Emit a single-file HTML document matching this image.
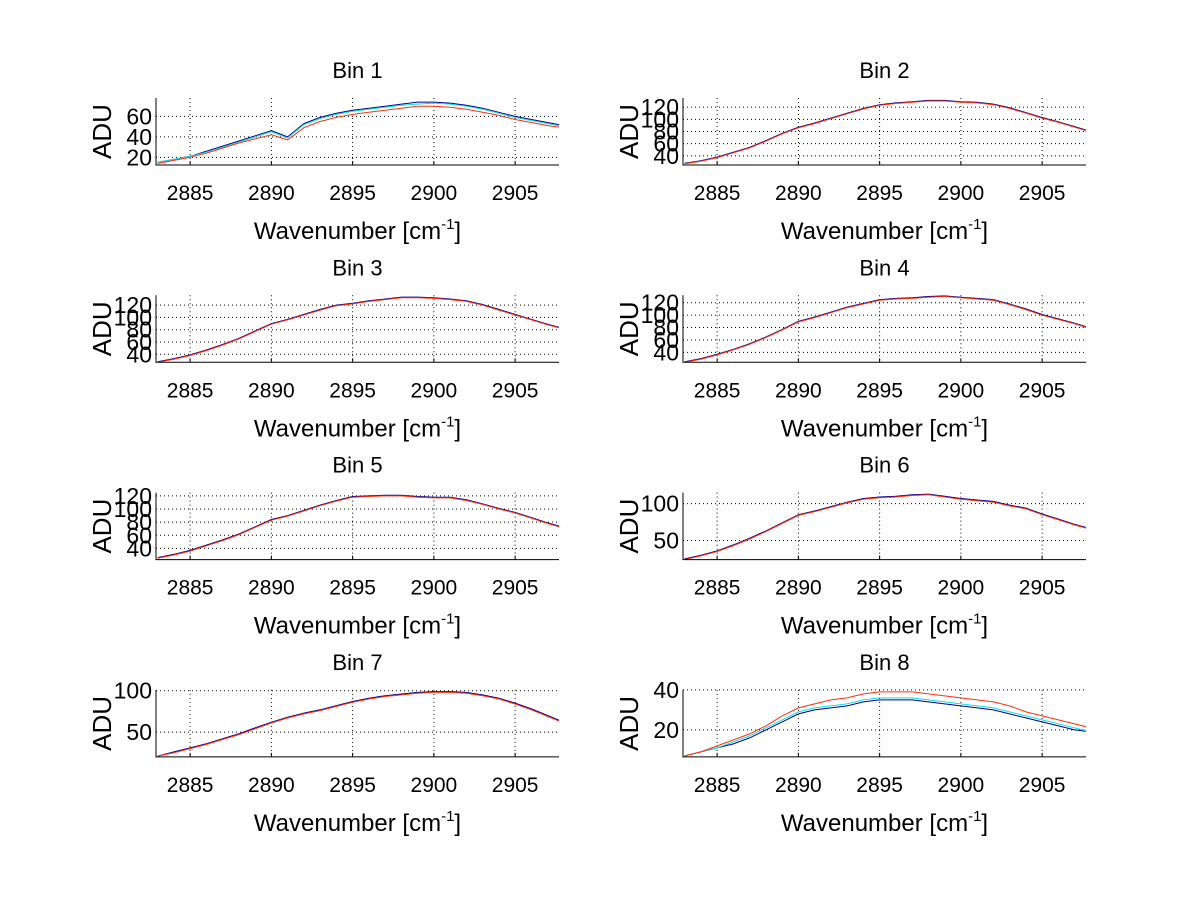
<!DOCTYPE html>
<html><head><meta charset="utf-8"><style>
html,body{margin:0;padding:0;background:#fff;}
svg{display:block;font-family:"Liberation Sans",sans-serif;}
</style></head><body>
<svg id="fig" width="1200" height="901" viewBox="0 0 1200 901" xmlns="http://www.w3.org/2000/svg">
<rect width="1200" height="901" fill="#fff"/>
</svg>
<script>
const xVals = [2883,2884,2885,2886,2887,2888,2889,2890,2891,2892,2893,2894,2895,2896,2897,2898,2899,2900,2901,2902,2903,2904,2905,2906,2907,2908];
const xTicks = [2885,2890,2895,2900,2905];
const xLim = [2882.9, 2907.7];

const bin1Navy = [15,18,21,26,31,36,41,46,40,53,59,63,66,68,70,72,74,74,73,71,68,64,60,57,54,51];
const bin1Cyan = [15,18,21,25,30,35,40,45,39,52,58,62,65,67,69,71,72,73,72,70,67,63,59,56,53,50];
const bin1Red  = [14,17,20,24,29,34,38,42,37,49,55,59,62,64,66,68,70,70,69,67,64,61,57,54,51,49];
const bin2Navy = [28,32,38,46,54,65,77,87,94,102,110,118,124,127,129,131,131,129,128,125,119,111,103,96,88,80];
const bin2Red  = [27,31,37,45,53,64,76,86,93,101,109,117,123,126,128,130,130,128,127,124,118,110,102,95,87,79];
const bin3Navy = [28,33,39,47,56,66,78,90,97,105,113,120,123,127,130,133,133,132,130,127,121,113,105,97,89,82];
const bin3Red  = [27,32,38,46,55,65,77,89,96,104,112,119,122,126,129,132,132,131,129,126,120,112,104,96,88,81];
const bin4Navy = [25,30,37,45,54,65,77,90,97,105,113,119,125,127,128,130,131,129,127,125,118,110,101,94,87,79];
const bin4Red  = [24,29,36,44,53,64,76,89,96,104,112,118,124,126,127,129,130,128,126,124,117,109,100,93,86,78];
const bin5Navy = [26,31,37,45,53,62,73,84,90,98,106,113,119,120,121,121,119,118,118,114,108,101,95,87,79,72];
const bin5Red  = [25,30,36,44,52,61,72,83,89,97,105,112,118,119,120,120,118,117,117,113,107,100,94,86,78,71];
const bin6Navy = [25,30,36,44,53,63,74,85,90,96,102,107,109,110,112,113,110,107,105,103,98,94,86,79,72,66];
const bin6Red  = [24,29,35,43,52,62,73,84,89,95,101,106,108,109,111,112,109,106,104,102,97,93,85,78,71,65];
const bin7Navy = [21,26,31,36,42,48,55,62,68,73,77,82,87,91,94,96,98,99,99,98,95,91,85,78,70,62];
const bin7Red  = [21,25,30,35,41,47,54,61,67,72,76,81,86,90,93,95,97,98,98,97,94,90,84,77,69,61];
const bin8Navy = [7,9,11,13,16,20,24,28,30,31,32,34,35,35,35,34,33,32,31,30,28,26,24,22,20,19];
const bin8Cyan = [7,9,11,14,17,21,25,29,31,32,33,35,36,36,36,35,34,33,32,31,29,27,25,23,21,19];
const bin8Red  = [7,9,12,15,18,22,27,31,33,35,36,38,39,39,39,38,37,36,35,34,32,29,27,25,23,21];

const yTicks1 = [20,40,60];
const yTicks2 = [40,60,80,100,120];
const yTicks6 = [50,100];
const yTicks8 = [20,40];

const panels = [
  {title:"Bin 1", col:0,row:0, yLim:[12.5,78], ticks:yTicks1, series:[bin1Navy,bin1Cyan,bin1Red]},
  {title:"Bin 2", col:1,row:0, yLim:[25,135], ticks:yTicks2, series:[bin2Navy,null,bin2Red]},
  {title:"Bin 3", col:0,row:1, yLim:[27,136], ticks:yTicks2, series:[bin3Navy,null,bin3Red]},
  {title:"Bin 4", col:1,row:1, yLim:[24,132], ticks:yTicks2, series:[bin4Navy,null,bin4Red]},
  {title:"Bin 5", col:0,row:2, yLim:[23,125], ticks:yTicks2, series:[bin5Navy,null,bin5Red]},
  {title:"Bin 6", col:1,row:2, yLim:[24,115], ticks:yTicks6, series:[bin6Navy,null,bin6Red]},
  {title:"Bin 7", col:0,row:3, yLim:[20,101], ticks:yTicks6, series:[bin7Navy,null,bin7Red]},
  {title:"Bin 8", col:1,row:3, yLim:[6.5,40], ticks:yTicks8, series:[bin8Navy,bin8Cyan,bin8Red]}
];
const colors = ["#00008f","#10e0e0","#ff3010"];
const colNames = ["navy","cyan","red"];

const NS="http://www.w3.org/2000/svg";
const fig=document.getElementById("fig");
function mk(tag,attrs,parent){const e=document.createElementNS(NS,tag);for(const k in attrs)e.setAttribute(k,attrs[k]);parent.appendChild(e);return e;}

panels.forEach((p,i)=>{
  const L = p.col===0?156:683, W=403, T=98+p.row*197.3, H=67;
  const sx=v=>L+(v-xLim[0])/(xLim[1]-xLim[0])*W;
  const sy=v=>T+H-(v-p.yLim[0])/(p.yLim[1]-p.yLim[0])*H;
  const g=mk("g",{},fig);
  
  
  const cp=mk("clipPath",{id:"c"+i},g);
  mk("rect",{x:L,y:T,width:W,height:H},cp);
  xTicks.forEach(t=>{
    const l=mk("line",{x1:sx(t),x2:sx(t),y1:T,y2:T+H,stroke:"#000","stroke-width":1,"stroke-dasharray":"1,3"},g);
    
    
    const tk=mk("line",{x1:sx(t),x2:sx(t),y1:T+H,y2:T+H-4,stroke:"#000"},g);
    
    
    const tx=mk("text",{x:sx(t),y:T+H+35,"font-size":21,"text-anchor":"middle"},g);
    tx.textContent=t;
    
    
  });
  p.ticks.forEach(t=>{
    const l=mk("line",{x1:L,x2:L+W,y1:sy(t),y2:sy(t),stroke:"#000","stroke-width":1,"stroke-dasharray":"1,3"},g);
    
    
    const tx=mk("text",{x:L-4,y:sy(t)+8,"font-size":23,"text-anchor":"end"},g);
    tx.textContent=t;
    
    
  });
  p.series.forEach((s,k)=>{
    if(!s)return;
    const pts=xVals.map((x,j)=>sx(x).toFixed(1)+","+sy(s[j]).toFixed(1)).join(" ");
    const pl=mk("polyline",{points:pts,fill:"none",stroke:colors[k],"stroke-width":1,"clip-path":"url(#c"+i+")"},g);
    
    
  });
  const ax=mk("path",{d:`M${L},${T} V${T+H} H${L+W}`,fill:"none",stroke:"#000","stroke-width":1},g);
  
  
  const ti=mk("text",{x:L+W/2,y:T-20,"font-size":22,"text-anchor":"middle"},g);
  ti.textContent=p.title;
  
  
  const xl=mk("text",{x:L+W/2,y:T+H+74,"font-size":24,"text-anchor":"middle"},g);
  xl.innerHTML='Wavenumber [cm<tspan dy="-10" font-size="15">-1</tspan><tspan dy="10">]</tspan>';
  
  
  const yl=mk("text",{x:0,y:0,"font-size":26,"text-anchor":"middle",transform:`translate(${L-45},${T+H/2}) rotate(-90)`},g);
  yl.textContent="ADU";
  
  
});
</script>
</body></html>
